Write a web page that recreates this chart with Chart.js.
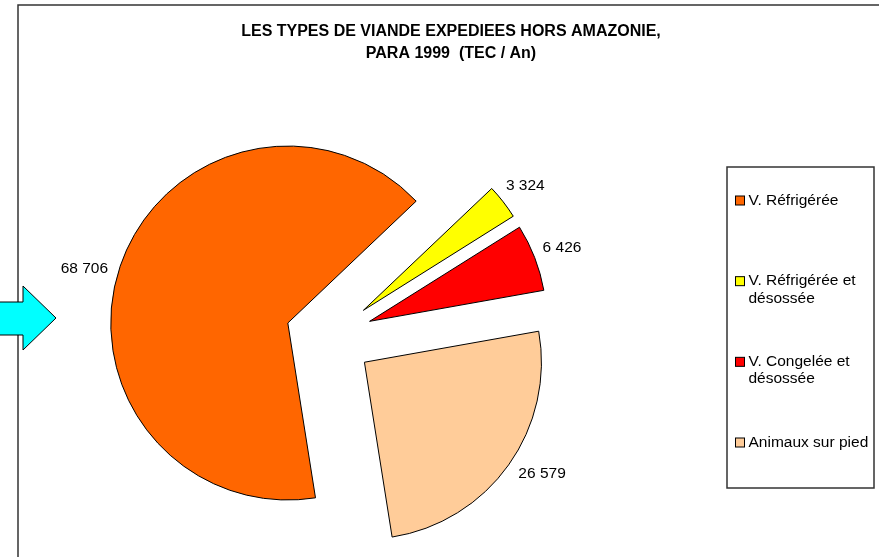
<!DOCTYPE html>
<html>
<head>
<meta charset="utf-8">
<script src="https://cdn.jsdelivr.net/npm/chart.js@4"></script>
<style>
  body { margin: 0; background: #fff; }
  #wrap { width: 879px; height: 557px; }
</style>
</head>
<body>
<div id="wrap"><canvas id="viande" width="879" height="557"></canvas></div>
<script>
// données (TEC / An)
const categories = ["V. Réfrigérée", "V. Réfrigérée et désossée", "V. Congelée et désossée", "Animaux sur pied"];
const tonnes = [68706, 3324, 6426, 26579];
const couleurs = ["#FF6600", "#FFFF00", "#FF0000", "#FFCC99"];
const titre = ["LES TYPES DE VIANDE EXPEDIEES HORS AMAZONIE,", "PARA 1999  (TEC / An)"];

const police = '"Liberation Sans", Arial, sans-serif';
const eclatement = 43.5;

function formatNombre(v) {
  return v.toString().replace(/\B(?=(\d{3})+(?!\d))/g, " ");
}

// cadre, titre et flèche
const decor = {
  id: "decor",
  beforeDraw(chart) {
    const ctx = chart.ctx;
    ctx.save();
    ctx.fillStyle = "#fff";
    ctx.fillRect(0, 0, chart.width, chart.height);
    ctx.strokeStyle = "#333";
    ctx.lineWidth = 1.5;
    ctx.beginPath();
    ctx.moveTo(18, chart.height);
    ctx.lineTo(18, 5);
    ctx.lineTo(chart.width, 5);
    ctx.stroke();

    ctx.fillStyle = "#000";
    ctx.font = "bold 16px " + police;
    ctx.textAlign = "center";
    ctx.textBaseline = "alphabetic";
    ctx.fillText(titre[0], 451, 36);
    ctx.fillText(titre[1], 451, 57.5);
    ctx.restore();
  },
  afterDraw(chart) {
    const ctx = chart.ctx;
    ctx.save();
    ctx.beginPath();
    ctx.moveTo(-2, 302);
    ctx.lineTo(23, 302);
    ctx.lineTo(23, 286);
    ctx.lineTo(56, 318);
    ctx.lineTo(23, 350);
    ctx.lineTo(23, 335);
    ctx.lineTo(-2, 335);
    ctx.closePath();
    ctx.fillStyle = "#00FFFF";
    ctx.fill();
    ctx.strokeStyle = "#000";
    ctx.lineWidth = 1;
    ctx.stroke();
    ctx.restore();
  }
};

// parts éclatées
const eclate = {
  id: "eclate",
  beforeDatasetDraw(chart, args) {
    const ctx = chart.ctx;
    args.meta.data.forEach((arc) => {
      const mid = (arc.startAngle + arc.endAngle) / 2;
      ctx.save();
      ctx.translate(Math.cos(mid) * eclatement, Math.sin(mid) * eclatement);
      arc.draw(ctx);
      ctx.restore();
    });
    return false;
  }
};

// étiquettes des valeurs
const etiquettes = {
  id: "etiquettes",
  afterDatasetsDraw(chart) {
    const ctx = chart.ctx;
    const meta = chart.getDatasetMeta(0);
    ctx.save();
    ctx.font = "15.5px " + police;
    ctx.fillStyle = "#000";
    ctx.textAlign = "center";
    ctx.textBaseline = "middle";
    meta.data.forEach((arc, i) => {
      const mid = (arc.startAngle + arc.endAngle) / 2;
      const txt = formatNombre(tonnes[i]);
      const w = ctx.measureText(txt).width;
      const c = Math.cos(mid), s = Math.sin(mid);
      const d = eclatement + arc.outerRadius + 9 + (w / 2) * Math.abs(c) + 6 * Math.abs(s);
      let x = arc.x + c * d, y = arc.y + s * d + 1;
      // les grandes parts : étiquette un peu décalée vers le début de la part (comme Excel)
      if (arc.endAngle - arc.startAngle > Math.PI / 2) {
        x += s * 13;
        y -= c * 13;
      }
      ctx.fillText(txt, x, y);
    });
    ctx.restore();
  }
};

// légende encadrée à droite
const legende = {
  id: "legende",
  afterDraw(chart) {
    const ctx = chart.ctx;
    const box = { left: 727, top: 167, right: 874, bottom: 488 };
    ctx.save();
    ctx.strokeStyle = "#333";
    ctx.lineWidth = 1.5;
    ctx.strokeRect(box.left, box.top, box.right - box.left, box.bottom - box.top);

    ctx.font = "15.5px " + police;
    ctx.textAlign = "left";
    ctx.textBaseline = "alphabetic";
    const textX = 748.5;
    const maxW = box.right - textX - 3;
    const premier = 204.5, dernier = 446.5;
    const pas = (dernier - premier) / (categories.length - 1);
    categories.forEach((cat, i) => {
      // coupure des lignes trop longues
      const mots = cat.split(" ");
      const lignes = [];
      let cur = "";
      mots.forEach((m) => {
        const essai = cur ? cur + " " + m : m;
        if (ctx.measureText(essai).width > maxW && cur) {
          lignes.push(cur);
          cur = m;
        } else {
          cur = essai;
        }
      });
      lignes.push(cur);

      const base = premier + i * pas;
      ctx.fillStyle = couleurs[i];
      ctx.fillRect(735.5, base - 8.5, 9, 9);
      ctx.strokeStyle = "#000";
      ctx.lineWidth = 1;
      ctx.strokeRect(735.5, base - 8.5, 9, 9);
      ctx.fillStyle = "#000";
      lignes.forEach((l, j) => ctx.fillText(l, textX, base + j * 17.5));
    });
    ctx.restore();
  }
};

new Chart(document.getElementById("viande"), {
  type: "pie",
  data: {
    labels: categories,
    datasets: [
      {
        data: tonnes,
        backgroundColor: couleurs,
        borderColor: "#000",
        borderWidth: 1
      }
    ]
  },
  options: {
    responsive: false,
    animation: false,
    events: [],
    rotation: 171,
    radius: 177,
    layout: { padding: { left: 20, right: 241, top: 120, bottom: 3 } },
    plugins: {
      legend: { display: false },
      tooltip: { enabled: false },
      title: { display: false }
    }
  },
  plugins: [decor, eclate, etiquettes, legende]
});
</script>
</body>
</html>
